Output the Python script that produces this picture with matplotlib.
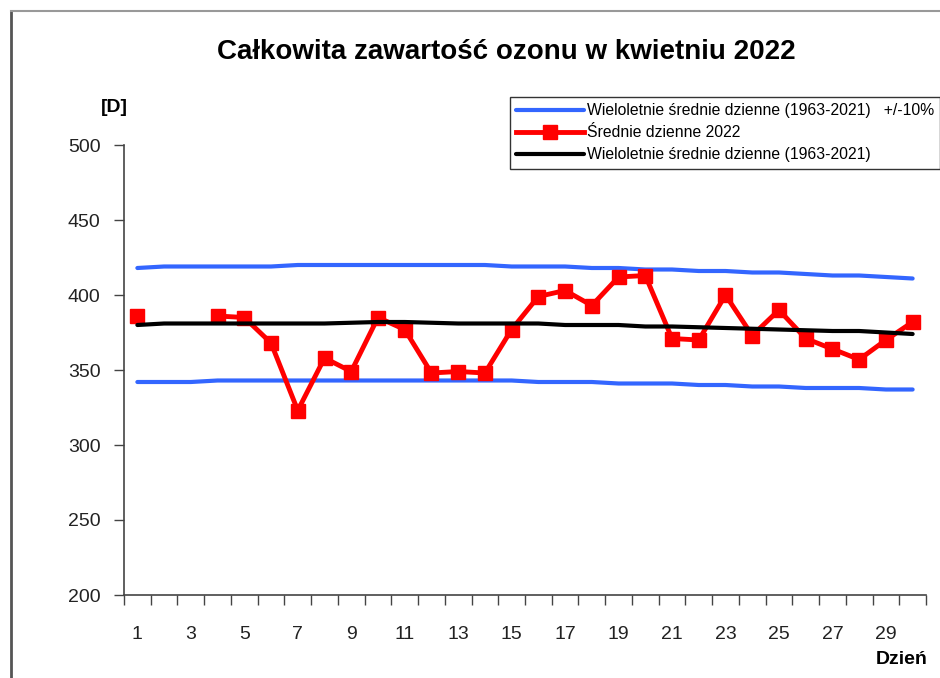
import numpy as np
import matplotlib
matplotlib.use("Agg")
import matplotlib.pyplot as plt
from matplotlib.lines import Line2D

plt.rcParams['font.family'] = ['Liberation Sans', 'DejaVu Sans']

# days of April 2022
days = list(range(1, 31))

# daily means 2022 (days 2 and 3 missing)
mean_2022 = [386, np.nan, np.nan, 386, 385, 368, 323, 358, 349, 385,
             377, 348, 349, 348, 377, 399, 403, 393, 412, 413,
             371, 370, 400, 373, 390, 371, 364, 357, 370, 382]

# long-term daily means 1963-2021
mean_lt = [380, 381, 381, 381, 381, 381, 381, 381, 381.5, 382,
           382, 381.5, 381, 381, 381, 381, 380, 380, 380, 379,
           379, 378.5, 378, 377.5, 377, 376.5, 376, 376, 375, 374]

# +/-10% band
upper = [418, 419, 419, 419, 419, 419, 420, 420, 420, 420,
         420, 420, 420, 420, 419, 419, 419, 418, 418, 417,
         417, 416, 416, 415, 415, 414, 413, 413, 412, 411]
lower = [342, 342, 342, 343, 343, 343, 343, 343, 343, 343,
         343, 343, 343, 343, 343, 342, 342, 342, 341, 341,
         341, 340, 340, 339, 339, 338, 338, 338, 337, 337]

blue = '#3366ff'

fig = plt.figure(figsize=(9.4, 6.78), dpi=100)
ax = fig.add_axes([124/940, 1 - 595/678, (926 - 124)/940, (595 - 145)/678])

ax.plot(days, upper, color=blue, lw=3, solid_capstyle='round',
        label='Wieloletnie średnie dzienne (1963-2021)   +/-10%')
ax.plot(days, lower, color=blue, lw=3, solid_capstyle='round')
ax.plot(days, mean_2022, color='#ff0000', lw=3.5, marker='s', ms=10,
        label='Średnie dzienne 2022')
ax.plot(days, mean_lt, color='black', lw=3, solid_capstyle='round',
        label='Wieloletnie średnie dzienne (1963-2021)')

ax.set_xlim(0.5, 30.5)
ax.set_ylim(200, 500)
ax.set_yticks(range(200, 501, 50))

# ticks at day boundaries, labels every second day
ax.set_xticks(np.arange(0.5, 31, 1))
ax.set_xticklabels([])
ax.set_xticks(days[::2], minor=True)
ax.set_xticklabels([str(d) for d in days[::2]], minor=True)
ax.tick_params(axis='x', which='major', direction='out', length=7, width=1, color='#444')
ax.tick_params(axis='x', which='minor', length=0, pad=22, labelsize=14, labelcolor='#222')
ax.tick_params(axis='y', direction='out', length=7, width=1, color='#444',
               pad=10, labelsize=14, labelcolor='#222')

for s in ['top', 'right']:
    ax.spines[s].set_visible(False)
for s in ['left', 'bottom']:
    ax.spines[s].set_color('#444')
    ax.spines[s].set_linewidth(1.2)

fig.text(506/940, 1 - 52/678, 'Całkowita zawartość ozonu w kwietniu 2022',
         ha='center', va='center', fontsize=20, fontweight='bold')
fig.text(114/940, 1 - 107/678, '[D]', ha='center', va='center',
         fontsize=14, fontweight='bold')
fig.text(928/940, 1 - 660/678, 'Dzień', ha='right', va='center',
         fontsize=14, fontweight='bold')

leg = fig.legend(loc='upper left', bbox_to_anchor=(510/940, 1 - 97/678),
                 borderaxespad=0, fontsize=11.3, frameon=True, fancybox=False,
                 handlelength=4.3, handletextpad=0.2, borderpad=0.4, labelspacing=0.45)
leg.get_frame().set_edgecolor('black')
leg.get_frame().set_linewidth(1)

# chart area border
fig.add_artist(Line2D([11/940, 11/940], [0, 1 - 11/678], color='#555', lw=2))
fig.add_artist(Line2D([11/940, 1], [1 - 11/678, 1 - 11/678], color='#999', lw=1.5))

fig.savefig('out.png', dpi=100)
